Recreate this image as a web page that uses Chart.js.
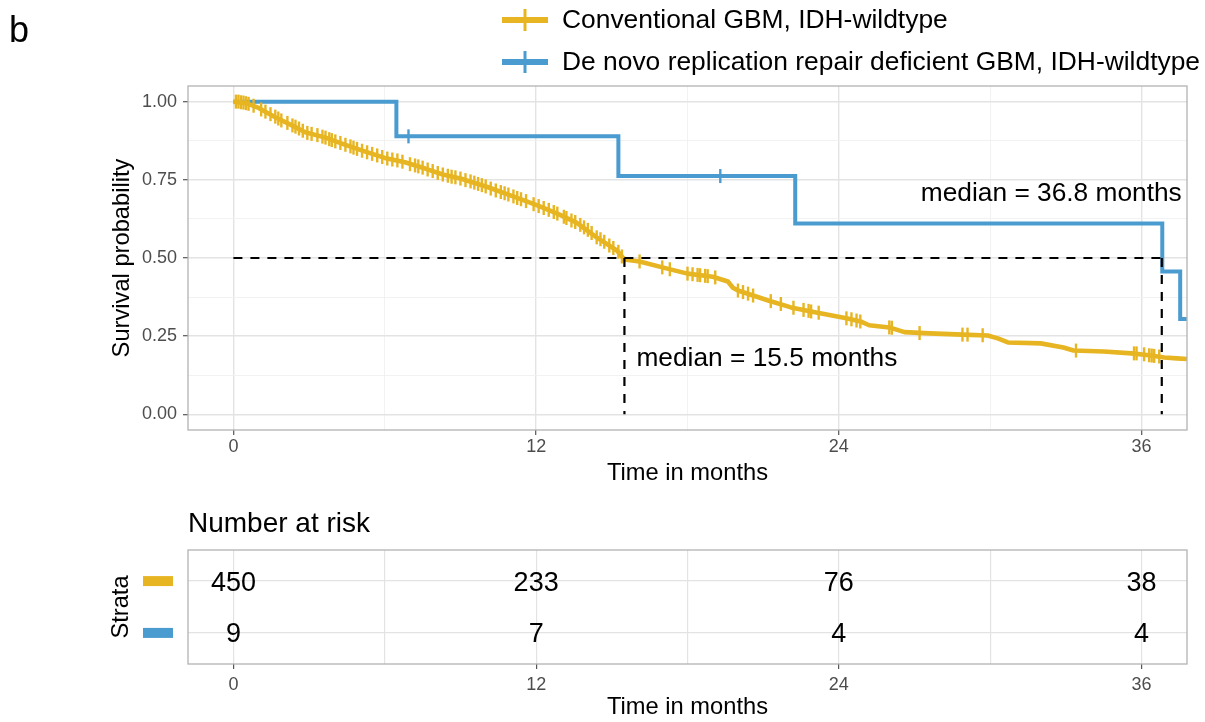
<!DOCTYPE html>
<html><head><meta charset="utf-8">
<script src="https://cdn.jsdelivr.net/npm/chart.js@4.4.1/dist/chart.umd.min.js"></script>
<style>
html,body{margin:0;padding:0;background:#fff;}
#wrap{position:relative;width:1205px;height:722px;overflow:hidden;background:#fff;}
#km{position:absolute;left:0;top:0;}
#risk{position:absolute;left:0;top:500px;}
</style></head><body>
<div id="wrap"><canvas id="km" width="1205" height="500"></canvas><canvas id="risk" width="1205" height="222"></canvas></div>
<script>
// ---------- data ----------
const strataNames = ['Conventional GBM, IDH-wildtype', 'De novo replication repair deficient GBM, IDH-wildtype'];
const xTickValues = [0, 12, 24, 36];
const yTickValues = [0, 0.25, 0.5, 0.75, 1];

const convTime = [0,0.5,1.0,1.66,2.3,2.85,3.65,4.44,5.23,6.0,6.8,7.6,8.3,9.0,10.07,10.98,12.05,12.84,13.6,14.4,15.2,15.5,16.1,17.2,18.0,19.0,19.6,19.8,20.0,20.6,21.2,22.1,23.1,24.3,24.9,25.2,26.0,26.6,27.6,28.9,29.9,30.3,30.7,32.0,32.9,33.3,34.5,35.6,36.3,36.9,37.4,37.8];
const convSurv = [1,0.995,0.98,0.95,0.925,0.902,0.885,0.862,0.84,0.82,0.806,0.786,0.767,0.754,0.727,0.70,0.668,0.642,0.613,0.566,0.524,0.495,0.489,0.466,0.45,0.44,0.425,0.405,0.396,0.38,0.364,0.342,0.326,0.307,0.296,0.285,0.278,0.263,0.259,0.255,0.252,0.243,0.23,0.227,0.214,0.204,0.201,0.195,0.189,0.182,0.179,0.177];

const convCensorTime = [0.1,0.2,0.3,0.4,0.5,0.6,0.8,1.1,1.27,1.47,1.66,1.78,1.9,2.14,2.34,2.46,2.6,2.75,2.93,3.1,3.33,3.53,3.65,3.8,3.9,4.04,4.24,4.44,4.64,4.76,4.9,5.1,5.3,5.5,5.7,5.9,6.1,6.3,6.5,6.7,7.0,7.2,7.33,7.5,7.7,7.9,8.1,8.3,8.5,8.65,8.8,9.0,9.2,9.4,9.55,9.7,9.85,10.0,10.2,10.4,10.6,10.75,10.9,11.1,11.25,11.4,11.6,11.9,12.1,12.3,12.5,12.7,12.84,13.1,13.2,13.4,13.55,13.75,13.9,14.05,14.2,14.4,14.55,14.7,14.9,15.06,15.26,15.4,16.1,17.0,17.3,18.0,18.2,18.4,18.5,18.7,18.8,19.1,20.0,20.2,20.4,20.6,21.3,21.7,22.2,22.6,22.8,22.9,23.2,24.3,24.5,24.7,24.85,26.0,26.1,27.2,28.9,29.1,29.7,33.4,35.7,35.8,36.1,36.3,36.4,36.5,36.7];
const convCensorSurv = [1.0,1.0,0.998,0.997,0.995,0.993,0.987,0.975,0.968,0.96,0.952,0.946,0.94,0.932,0.924,0.92,0.914,0.907,0.90,0.897,0.893,0.888,0.885,0.88,0.877,0.873,0.868,0.862,0.857,0.853,0.849,0.843,0.838,0.833,0.828,0.823,0.818,0.815,0.812,0.808,0.80,0.796,0.793,0.789,0.783,0.778,0.772,0.767,0.763,0.76,0.758,0.754,0.749,0.745,0.741,0.737,0.733,0.729,0.722,0.716,0.711,0.707,0.703,0.697,0.692,0.688,0.682,0.672,0.666,0.66,0.654,0.647,0.642,0.632,0.628,0.62,0.615,0.606,0.598,0.59,0.58,0.566,0.56,0.552,0.54,0.532,0.52,0.505,0.489,0.47,0.464,0.45,0.448,0.446,0.445,0.443,0.442,0.438,0.396,0.391,0.386,0.38,0.362,0.353,0.341,0.334,0.331,0.329,0.325,0.307,0.304,0.30,0.297,0.278,0.277,0.26,0.255,0.255,0.253,0.204,0.195,0.195,0.192,0.189,0.188,0.187,0.185];

const rrdTime = [0, 6.46, 15.26, 22.27, 36.82, 37.53, 37.8];
const rrdSurv = [1, 0.889, 0.762, 0.610, 0.457, 0.305, 0.305];
const rrdCensorTime = [6.94, 19.3];
const rrdCensorSurv = [0.889, 0.762];

const medianTimes = [15.5, 36.8];
const medianSurv = 0.5;
const medianLabels = ['median = 15.5 months', 'median = 36.8 months'];

const riskTimes = [0, 12, 24, 36];
const riskConv = [450, 233, 76, 38];
const riskRrd = [9, 7, 4, 4];

// ---------- styles ----------
const YEL = '#E7B521';
const BLU = '#4A9BD0';
const FONT = "'Liberation Sans', Arial, Helvetica, sans-serif";
const GRID_MAJOR = '#e3e3e3';
const GRID_MINOR = '#f1f1f1';
const BORDER = '#b3b3b3';
const TICKC = '#4d4d4d';

const pts = (xs, ys) => xs.map((x, i) => ({x: x, y: ys[i]}));

function xScaleOpts() {
  return {
    type: 'linear', min: -1.8, max: 37.8,
    afterBuildTicks: s => { s.ticks = [0,6,12,18,24,30,36].map(v => ({value: v})); },
    afterFit: s => { s.height = 57.4; },
    ticks: {
      autoSkip: false, maxRotation: 0, padding: 1.5,
      color: TICKC, font: {family: FONT, size: 18, lineHeight: 1.2},
      callback: v => (xTickValues.includes(v) ? String(v) : '')
    },
    grid: {
      color: c => (c.tick && xTickValues.includes(c.tick.value) ? GRID_MAJOR : GRID_MINOR),
      lineWidth: c => (c.tick && xTickValues.includes(c.tick.value) ? 1.4 : 0.9),
      tickColor: c => (c.tick && xTickValues.includes(c.tick.value) ? '#555' : 'rgba(0,0,0,0)'),
      tickLength: 5, tickWidth: 1.2
    },
    border: {display: false},
    title: {display: true, text: 'Time in months', color: '#000',
      font: {family: FONT, size: 23.7, lineHeight: 1.2}, padding: {top: 0, bottom: 0}}
  };
}

// ---------- main KM chart ----------
const kmPlugin = {
  id: 'kmDecor',
  afterDraw(chart) {
    const {ctx, chartArea: a, scales} = chart;
    const xs = scales.x, ys = scales.y;
    ctx.save();
    ctx.strokeStyle = BORDER; ctx.lineWidth = 1.3;
    ctx.strokeRect(a.left, a.top, a.right - a.left, a.bottom - a.top);
    ctx.fillStyle = '#000';
    ctx.font = '26.3px ' + FONT;
    ctx.textBaseline = 'middle';
    ctx.textAlign = 'left';
    ctx.fillText(medianLabels[0], xs.getPixelForValue(medianTimes[0]) + 12, ys.getPixelForValue(0.179));
    ctx.textAlign = 'right';
    ctx.fillText(medianLabels[1], xs.getPixelForValue(medianTimes[1]) + 20, ys.getPixelForValue(0.705));
    ctx.textAlign = 'left'; ctx.textBaseline = 'alphabetic';
    ctx.font = '36px ' + FONT;
    ctx.fillText('b', 9, 42);
    const legY = [20, 62], cols = [YEL, BLU];
    for (let i = 0; i < 2; i++) {
      ctx.strokeStyle = cols[i]; ctx.lineCap = 'butt';
      ctx.lineWidth = 6;
      ctx.beginPath(); ctx.moveTo(502, legY[i]); ctx.lineTo(548, legY[i]); ctx.stroke();
      ctx.lineWidth = 3;
      ctx.beginPath(); ctx.moveTo(525, legY[i] - 11); ctx.lineTo(525, legY[i] + 11); ctx.stroke();
      ctx.fillStyle = '#000'; ctx.font = '26.4px ' + FONT;
      ctx.textBaseline = 'middle';
      ctx.fillText(strataNames[i], 562, legY[i] + 1);
    }
    ctx.restore();
  }
};

new Chart(document.getElementById('km'), {
  type: 'line',
  data: {
    datasets: [
      {label: 'median h', data: [{x: 0, y: medianSurv}, {x: medianTimes[1], y: medianSurv}],
        borderColor: '#000', borderWidth: 2.2, borderDash: [9, 8], pointRadius: 0, order: 0, clip: 2},
      {label: 'median v1', data: [{x: medianTimes[0], y: medianSurv}, {x: medianTimes[0], y: 0}],
        borderColor: '#000', borderWidth: 2.2, borderDash: [9, 8], pointRadius: 0, order: 0, clip: 2},
      {label: 'median v2', data: [{x: medianTimes[1], y: medianSurv}, {x: medianTimes[1], y: 0}],
        borderColor: '#000', borderWidth: 2.2, borderDash: [9, 8], pointRadius: 0, order: 0, clip: 2},
      {label: strataNames[0] + ' censor', data: pts(convCensorTime, convCensorSurv), showLine: false,
        pointStyle: 'line', rotation: 90, pointRadius: 7, pointBorderWidth: 2.4,
        pointBorderColor: YEL, borderColor: YEL, order: 1, clip: 2},
      {label: strataNames[1] + ' censor', data: pts(rrdCensorTime, rrdCensorSurv), showLine: false,
        pointStyle: 'line', rotation: 90, pointRadius: 7, pointBorderWidth: 2.4,
        pointBorderColor: BLU, borderColor: BLU, order: 1, clip: 2},
      {label: strataNames[0], data: pts(convTime, convSurv), borderColor: YEL, borderWidth: 4.6,
        pointRadius: 0, tension: 0, order: 2, clip: 1, borderJoinStyle: 'round'},
      {label: strataNames[1], data: pts(rrdTime, rrdSurv), borderColor: BLU, borderWidth: 4,
        pointRadius: 0, stepped: true, order: 3, clip: 1}
    ]
  },
  options: {
    responsive: false, animation: false, devicePixelRatio: 1,
    layout: {padding: {left: 95, right: 18, top: 86, bottom: 12.6}},
    plugins: {legend: {display: false}, tooltip: {enabled: false}},
    scales: {
      x: xScaleOpts(),
      y: {
        type: 'linear', min: -0.05, max: 1.05,
        afterBuildTicks: s => { s.ticks = [0,0.125,0.25,0.375,0.5,0.625,0.75,0.875,1].map(v => ({value: v})); },
        afterFit: s => { s.width = 93; },
        ticks: {
          padding: 6, color: TICKC, font: {family: FONT, size: 18},
          callback: v => (yTickValues.includes(v) ? v.toFixed(2) : '')
        },
        grid: {
          color: c => (c.tick && yTickValues.includes(c.tick.value) ? GRID_MAJOR : GRID_MINOR),
          lineWidth: c => (c.tick && yTickValues.includes(c.tick.value) ? 1.4 : 0.9),
          tickColor: c => (c.tick && yTickValues.includes(c.tick.value) ? '#555' : 'rgba(0,0,0,0)'),
          tickLength: 5, tickWidth: 1.2
        },
        border: {display: false},
        title: {display: true, text: 'Survival probability', color: '#000',
          font: {family: FONT, size: 23.7, lineHeight: 1.2}, padding: {top: 13.6, bottom: 0}}
      }
    }
  },
  plugins: [kmPlugin]
});

// ---------- risk table ----------
const riskPlugin = {
  id: 'riskDecor',
  afterDraw(chart) {
    const {ctx, chartArea: a, scales} = chart;
    const ys = scales.y;
    ctx.save();
    ctx.strokeStyle = BORDER; ctx.lineWidth = 1.3;
    ctx.strokeRect(a.left, a.top, a.right - a.left, a.bottom - a.top);
    ctx.fillStyle = '#000'; ctx.font = '28px ' + FONT;
    ctx.textAlign = 'left'; ctx.textBaseline = 'alphabetic';
    ctx.fillText('Number at risk', 188, 32);
    const rows = [2, 1], cols = [YEL, BLU];
    for (let i = 0; i < 2; i++) {
      const y = ys.getPixelForValue(rows[i]);
      ctx.fillStyle = cols[i];
      ctx.fillRect(143, y - 5, 30, 10);
    }
    ctx.fillStyle = '#000'; ctx.font = '27px ' + FONT;
    ctx.textAlign = 'center'; ctx.textBaseline = 'middle';
    chart.data.datasets.forEach((ds, di) => {
      const meta = chart.getDatasetMeta(di);
      meta.data.forEach((el, j) => {
        ctx.fillText(String(ds.counts[j]), el.x, el.y + 2);
      });
    });
    ctx.restore();
  }
};

new Chart(document.getElementById('risk'), {
  type: 'scatter',
  data: {
    datasets: [
      {label: strataNames[0], counts: riskConv, data: riskTimes.map(t => ({x: t, y: 2})), pointRadius: 0},
      {label: strataNames[1], counts: riskRrd, data: riskTimes.map(t => ({x: t, y: 1})), pointRadius: 0}
    ]
  },
  options: {
    responsive: false, animation: false, devicePixelRatio: 1,
    layout: {padding: {left: 95, right: 18, top: 50, bottom: 0.6}},
    plugins: {legend: {display: false}, tooltip: {enabled: false}},
    scales: {
      x: (() => { const o = xScaleOpts(); o.ticks.padding = 5.5;
        o.grid.color = GRID_MAJOR; o.grid.lineWidth = 1.2; return o; })(),
      y: {
        type: 'linear', min: 0.4, max: 2.6,
        afterBuildTicks: s => { s.ticks = [1, 2].map(v => ({value: v})); },
        afterFit: s => { s.width = 93; },
        ticks: {display: false},
        grid: {color: GRID_MAJOR, lineWidth: 1.2, drawTicks: false},
        border: {display: false},
        title: {display: true, text: 'Strata', color: '#000',
          font: {family: FONT, size: 23.7, lineHeight: 1.2}, padding: {top: 12, bottom: 0}}
      }
    }
  },
  plugins: [riskPlugin]
});
</script>
</body></html>
